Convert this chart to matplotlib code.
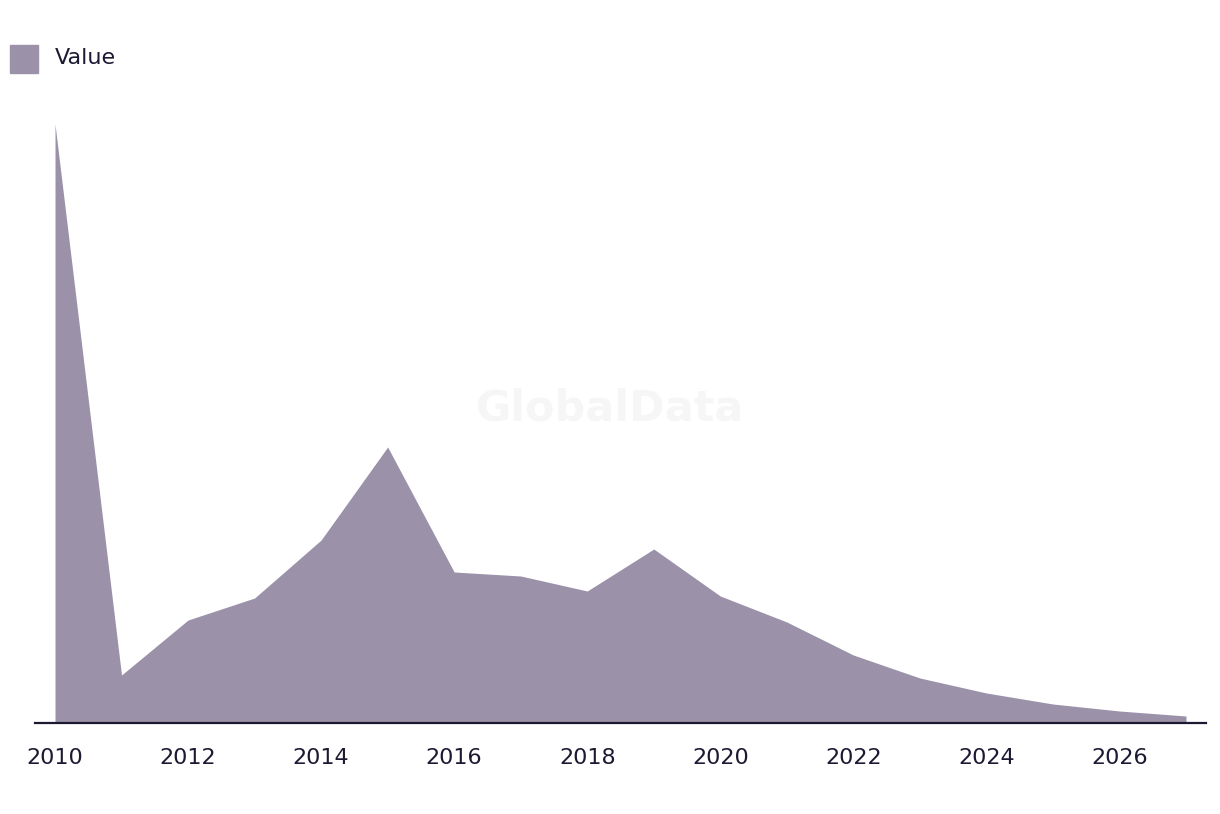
import matplotlib.pyplot as plt
import matplotlib.patches as mpatches

# data (arbitrary units)
years = [2010, 2011, 2012, 2013, 2014, 2015, 2016, 2017, 2018,
         2019, 2020, 2021, 2022, 2023, 2024, 2025, 2026, 2027]
values = [599, 48, 103, 125, 183, 276, 151, 147, 132,
          174, 127, 101, 68, 45, 30, 19, 12, 7]
tick_years = [2010, 2012, 2014, 2016, 2018, 2020, 2022, 2024, 2026]

FILL = '#9b92a9'
TEXT = '#1c1a33'

fig = plt.figure(figsize=(12.2, 8.14), dpi=100)
ax = fig.add_axes([35 / 1220, 1 - 723 / 814, 1171 / 1220, 620 / 814])

ax.fill_between(years, values, 0, color=FILL, linewidth=0)
ax.set_xlim(2010 - 20 / 66.53, 2027 + 20 / 66.53)
ax.set_ylim(0, 620)

for s in ['top', 'right', 'left']:
    ax.spines[s].set_visible(False)
ax.spines['bottom'].set_color(TEXT)
ax.spines['bottom'].set_linewidth(1.6)
ax.set_yticks([])
ax.set_xticks(tick_years)
ax.set_xticklabels([str(y) for y in tick_years], fontsize=16, color=TEXT)
ax.tick_params(axis='x', length=0, pad=18)

# watermark
fig.text(0.5, 1 - 408 / 814, 'GlobalData', fontsize=31, fontweight='bold',
         color='#f6f6f6', ha='center', va='center', zorder=0)

# legend
fig.patches.append(mpatches.Rectangle((10 / 1220, 1 - 73 / 814), 28 / 1220, 28 / 814,
                                      transform=fig.transFigure, color=FILL))
fig.text(55 / 1220, 1 - 58 / 814, 'Value', fontsize=16, color=TEXT,
         ha='left', va='center')

fig.savefig('out.png', dpi=100)
